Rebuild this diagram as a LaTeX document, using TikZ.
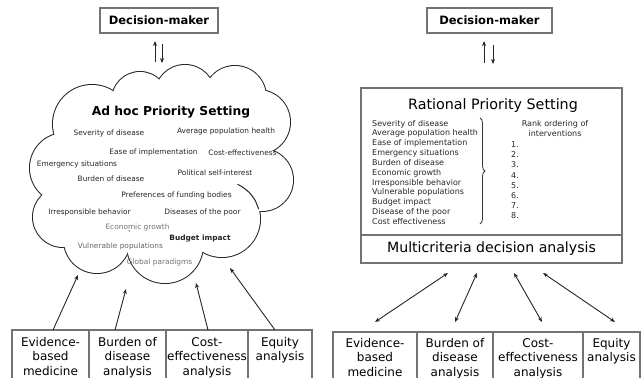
\documentclass[tikz,border=0pt]{standalone}
\usepackage{fontspec}
\setmainfont{DejaVu Sans}
\usetikzlibrary{arrows.meta,decorations.pathreplacing,calc}
\begin{document}
\begin{tikzpicture}[x=1pt,y=-1pt,
  dmbox/.style={draw=black!55, line width=1.2pt, font=\bfseries\fontsize{11.5}{13}\selectfont, inner sep=0pt},
  srcbox/.style={draw=black!55, line width=1.2pt, inner sep=0pt},
  srctext/.style={font=\fontsize{12}{14.5}\selectfont, align=center, anchor=north, inner sep=0pt},
  ctext/.style={font=\fontsize{7.4}{8}\selectfont, anchor=mid, inner sep=0pt, text=black!85},
  ltext/.style={font=\fontsize{8}{9}\selectfont, anchor=mid west, inner sep=0pt, text=black!85},
  arr/.style={draw=black!85, line width=0.9pt, -{Stealth[length=5pt,width=4pt]}},
  darr/.style={draw=black!85, line width=0.9pt, {Stealth[length=5pt,width=4pt]}-{Stealth[length=5pt,width=4pt]}}
]
\useasboundingbox (0,0) rectangle (641,378);
\clip (0,0) rectangle (641,378);

% ---------------- LEFT PANEL ----------------
\node[dmbox, minimum width=118pt, minimum height=25pt] (dmL) at (159,20.5) {Decision-maker};
\coordinate (dmLu1) at (155,62);
\coordinate (dmLu2) at (155,41);
\coordinate (dmLd1) at (162,44);
\coordinate (dmLd2) at (162,63);
\draw[arr] (dmLu1) -- (dmLu2);
\draw[arr] (dmLd1) -- (dmLd2);

% cloud
\foreach \cx/\cy/\r in {92/124/39, 140/100/28, 185/95/30, 235/97/31, 258/122/32, 262/180/31, 222/219/38, 165/245/38, 97/240/33, 63/217/30, 65/168/35}
  \draw[line width=2pt, black!85] (\cx,\cy) circle[radius=\r pt];
\foreach \cx/\cy/\r in {92/124/39, 140/100/28, 185/95/30, 235/97/31, 258/122/32, 262/180/31, 222/219/38, 165/245/38, 97/240/33, 63/217/30, 65/168/35}
  \fill[white] (\cx,\cy) circle[radius=\r pt];
\fill[white] (165,165) ellipse[x radius=100pt, y radius=70pt];
\draw[line width=1pt, black!85] plot[smooth] coordinates {(258.7,209.2) (254.9,200) (248.9,192.1) (241,186.1) (237.5,184.3)};

\node[font=\bfseries\fontsize{12.3}{14}\selectfont, anchor=mid, inner sep=0pt] (adhoc) at (171,113) {Ad hoc Priority Setting};
\node[ctext] (c1) at (109,133) {Severity of disease};
\node[ctext] (c2) at (226,131) {Average population health};
\node[ctext] (c3) at (153.5,152) {Ease of implementation};
\node[ctext] (c4) at (242.5,153) {Cost-effectiveness};
\node[ctext] (c5) at (77,164) {Emergency situations};
\node[ctext] (c6) at (215,173) {Political self-interest};
\node[ctext] (c7) at (111,179) {Burden of disease};
\node[ctext] (c8) at (176.5,195) {Preferences of funding bodies};
\node[ctext] (c9) at (89.5,212) {Irresponsible behavior};
\node[ctext] (c10) at (202.5,212) {Diseases of the poor};
\node[ctext, text=black!55] (c11) at (137.5,227) {Economic growth};
\node[ctext, font=\bfseries\fontsize{7.4}{8}\selectfont] (c12) at (200,238) {Budget impact};
\node[ctext, text=black!60] (c13) at (120.5,246) {Vulnerable populations};
\node[ctext, text=black!55] (c14) at (159.5,262) {Global paradigms};

% source boxes left
\node[srcbox, minimum width=77pt, minimum height=60pt] (lb1) at (50.5,360) {};
\node[srcbox, minimum width=77pt, minimum height=60pt] (lb2) at (127.5,360) {};
\node[srcbox, minimum width=82pt, minimum height=60pt] (lb3) at (207,360) {};
\node[srcbox, minimum width=64pt, minimum height=60pt] (lb4) at (280,360) {};
\node[srctext] (lt1) at (50.5,337) {Evidence-\\based\\medicine};
\node[srctext] (lt2) at (127.5,337) {Burden of\\disease\\analysis};
\node[srctext] (lt3) at (207,337) {Cost-\\effectiveness\\analysis};
\node[srctext] (lt4) at (280,337) {Equity\\analysis};

\coordinate (lA0) at (53,330); \coordinate (lA1) at (78,275);
\coordinate (lB0) at (115,330); \coordinate (lB1) at (126,289);
\coordinate (lC0) at (208,330); \coordinate (lC1) at (196,283);
\coordinate (lD0) at (275,330); \coordinate (lD1) at (230,268);
\draw[arr] (lA0) -- (lA1);
\draw[arr] (lB0) -- (lB1);
\draw[arr] (lC0) -- (lC1);
\draw[arr] (lD0) -- (lD1);

% ---------------- RIGHT PANEL ----------------
\node[dmbox, minimum width=125pt, minimum height=25pt] (dmR) at (489.5,20.5) {Decision-maker};
\coordinate (dmRu1) at (484,63);
\coordinate (dmRu2) at (484,41);
\coordinate (dmRd1) at (493,45);
\coordinate (dmRd2) at (493,64);
\draw[arr] (dmRu1) -- (dmRu2);
\draw[arr] (dmRd1) -- (dmRd2);

\node[srcbox, minimum width=261pt, minimum height=147pt] (rps) at (491.5,161.5) {};
\node[srcbox, minimum width=261pt, minimum height=28pt, font=\fontsize{14.1}{16}\selectfont] (mcda) at (491.5,249) {Multicriteria decision analysis};
\node[font=\fontsize{14.3}{16}\selectfont, anchor=mid, inner sep=0pt] (rtitle) at (493,107) {Rational Priority Setting};

\foreach \t [count=\i] in {Severity of disease, Average population health, Ease of implementation, Emergency situations, Burden of disease, Economic growth, Irresponsible behavior, Vulnerable populations, Budget impact, Disease of the poor, Cost effectiveness}
  \node[ltext] (r\i) at (372,{123.3+9.84*(\i-1)}) {\t};

\draw[decorate, decoration={brace, amplitude=5pt}, line width=0.8pt, black!80] (480,118) -- (480,224);

\node[font=\fontsize{8}{10}\selectfont, align=center, inner sep=0pt, text=black!85] (rank) at (555,128.5) {Rank ordering of\\interventions};
\foreach \i in {1,...,8}
  \node[font=\fontsize{8}{9}\selectfont, anchor=mid, inner sep=0pt, text=black!85] (n\i) at (515,{145+10.1*(\i-1)}) {\i.};

% source boxes right
\node[srcbox, minimum width=84pt, minimum height=60pt] (rb1) at (375,362) {};
\node[srcbox, minimum width=76pt, minimum height=60pt] (rb2) at (455,362) {};
\node[srcbox, minimum width=90pt, minimum height=60pt] (rb3) at (538,362) {};
\node[srcbox, minimum width=57pt, minimum height=60pt] (rb4) at (611.5,362) {};
\node[srctext] (rt1) at (375,338) {Evidence-\\based\\medicine};
\node[srctext] (rt2) at (455,338) {Burden of\\disease\\analysis};
\node[srctext] (rt3) at (538,338) {Cost-\\effectiveness\\analysis};
\node[srctext] (rt4) at (611.5,338) {Equity\\analysis};

\coordinate (rA0) at (448,273); \coordinate (rA1) at (375,322);
\coordinate (rB0) at (477,273); \coordinate (rB1) at (455,322);
\coordinate (rC0) at (514,273); \coordinate (rC1) at (542,322);
\coordinate (rD0) at (543,273); \coordinate (rD1) at (615,322);
\draw[darr] (rA0) -- (rA1);
\draw[darr] (rB0) -- (rB1);
\draw[darr] (rC0) -- (rC1);
\draw[darr] (rD0) -- (rD1);
\end{tikzpicture}
\end{document}
